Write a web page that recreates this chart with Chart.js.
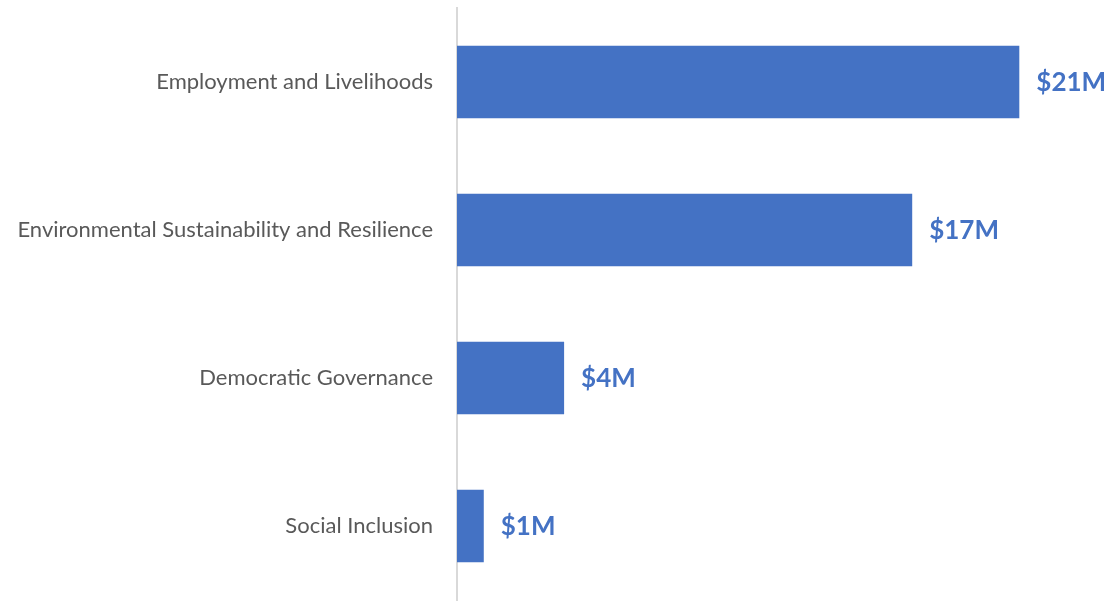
<!DOCTYPE html>
<html>
<head>
<meta charset="utf-8">
<script src="https://cdn.jsdelivr.net/npm/chart.js@4/dist/chart.umd.min.js"></script>
<style>
  html, body { margin: 0; padding: 0; background: #fff; }
  #wrap { width: 1108px; height: 605px; }
</style>
</head>
<body>
<div id="wrap"><canvas id="fundChart"></canvas></div>
<script>
const categories = [
    "Employment and Livelihoods",
    "Environmental Sustainability and Resilience",
    "Democratic Governance",
    "Social Inclusion"
];
const funding = [21, 17, 4, 1]; // millions USD
const valueLabels = ["$21M", "$17M", "$4M", "$1M"];

const BLUE = "#4472C4";

// value text just past the end of each bar
const barValues = {
    id: "barValues",
    afterDatasetsDraw(chart) {
        const ctx = chart.ctx;
        const meta = chart.getDatasetMeta(0);
        ctx.save();
        ctx.font = "bold 26px Lato, 'Open Sans', sans-serif";
        ctx.fillStyle = BLUE;
        ctx.textBaseline = "middle";
        ctx.textAlign = "left";
        meta.data.forEach((bar, i) => {
            ctx.fillText(valueLabels[i], bar.x + 17, bar.y + 1);
        });
        ctx.restore();
    }
};

const ctx = document.getElementById("fundChart").getContext("2d");
new Chart(ctx, {
    type: "bar",
    data: {
        labels: categories,
        datasets: [{
            data: funding,
            backgroundColor: BLUE,
            barPercentage: 0.49,
            categoryPercentage: 1
        }]
    },
    options: {
        indexAxis: "y",
        responsive: true,
        maintainAspectRatio: false,
        animation: false,
        layout: { padding: { top: 8, bottom: 5, left: 0, right: 3 } },
        plugins: { legend: { display: false }, tooltip: { enabled: false } },
        scales: {
            x: { display: false, min: 0, max: 24.2 },
            y: {
                grid: { display: false },
                border: { display: true, color: "#d9d9d9", width: 2 },
                ticks: {
                    color: "#595959",
                    font: { family: "Lato, 'Open Sans', sans-serif", size: 22 },
                    padding: 16
                },
                afterFit(scale) {
                    scale.width = 457;
                    scale.paddingTop = 0;
                    scale.paddingBottom = 0;
                }
            }
        }
    },
    plugins: [barValues]
});
</script>
</body>
</html>
